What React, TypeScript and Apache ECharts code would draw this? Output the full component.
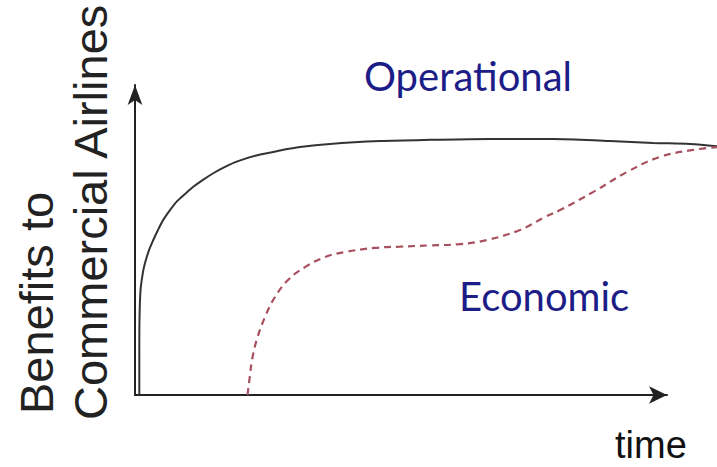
import React, { useEffect, useRef } from "react";
import * as echarts from "echarts";

// time (0-100 across the plot) and benefit (0-100 of axis height)
const operationalTime = [0.74, 0.74, 0.77, 0.95, 1.37, 1.72, 2.41, 3.14, 3.95, 4.86, 6.01, 7.16, 8.59, 10.02, 11.68, 13.45, 15.46, 17.47, 21.19, 24.91, 28.35, 33.5, 42.1, 50.7, 61.0, 71.8, 81.6, 89.0, 95.4, 100];
const operationalBenefit = [0, 14.3, 23.8, 33.3, 39.0, 41.9, 46.0, 49.2, 52.4, 55.6, 58.7, 61.4, 63.8, 66.1, 68.3, 70.4, 72.4, 74.1, 76.2, 77.6, 78.7, 79.7, 80.6, 81.0, 81.3, 81.3, 80.6, 80.0, 79.7, 79.0];

const economicTime = [19.33, 19.76, 20.1, 20.91, 22.34, 24.05, 26.29, 29.21, 32.65, 36.08, 41.24, 45.53, 50.69, 55.84, 60.48, 66.15, 70.45, 73.02, 78.69, 84.54, 90.21, 95.88, 100];
const economicBenefit = [0, 6.3, 11.1, 17.5, 24.8, 31.1, 36.5, 40.6, 43.8, 45.4, 46.7, 47.1, 47.5, 47.9, 49.2, 52.4, 56.5, 58.7, 64.4, 70.8, 75.6, 77.8, 78.7];

const yTitleLines = ["Benefits to", "Commercial Airlines"];
const xTitle = "time";
const labelOperational = "Operational";
const labelEconomic = "Economic";

export default function App() {
  const ref = useRef<HTMLDivElement>(null);
  useEffect(() => {
    if (!ref.current) return;
    const chart = echarts.init(ref.current, null, { renderer: "svg" });
    const opData = operationalTime.map((t, i) => [t, operationalBenefit[i]]);
    const ecData = economicTime.map((t, i) => [t, economicBenefit[i]]);
    const axisStyle = { color: "#222", width: 2 };
    chart.setOption({
      animation: false,
      backgroundColor: "#fff",
      grid: [
        { left: 135, right: 0, top: 80, bottom: 72 },
        { left: 135, right: 50, top: 85, bottom: 72 },
      ],
      xAxis: [
        { type: "value", gridIndex: 0, min: 0, max: 100, show: false },
        {
          type: "value", gridIndex: 1, min: 0, max: 1,
          axisLine: { show: true, onZero: false, lineStyle: axisStyle, symbol: ["none", "arrow"], symbolSize: [13, 18] },
          axisTick: { show: false }, axisLabel: { show: false }, splitLine: { show: false },
        },
      ],
      yAxis: [
        { type: "value", gridIndex: 0, min: 0, max: 100, show: false },
        {
          type: "value", gridIndex: 1, min: 0, max: 1,
          axisLine: { show: true, onZero: false, lineStyle: axisStyle, symbol: ["none", "arrow"], symbolSize: [11, 20] },
          axisTick: { show: false }, axisLabel: { show: false }, splitLine: { show: false },
        },
      ],
      series: [
        {
          type: "line", xAxisIndex: 0, yAxisIndex: 0, data: opData, smooth: 0.3,
          showSymbol: false, lineStyle: { color: "#333", width: 2 },
        },
        {
          type: "line", xAxisIndex: 0, yAxisIndex: 0, data: ecData, smooth: 0.4,
          showSymbol: false, lineStyle: { color: "#a8505e", width: 2.2, type: [7, 5] },
        },
      ],
      graphic: [
        {
          type: "text", x: 36, y: 414, rotation: Math.PI / 2,
          style: { text: yTitleLines[0], font: '47px "Liberation Sans", Arial, sans-serif', fill: "#222", textAlign: "left", textVerticalAlign: "middle" },
        },
        {
          type: "text", x: 90, y: 420, rotation: Math.PI / 2,
          style: { text: yTitleLines[1], font: '47px "Liberation Sans", Arial, sans-serif', fill: "#222", textAlign: "left", textVerticalAlign: "middle" },
        },
        {
          type: "text", x: 615, y: 445,
          style: { text: xTitle, font: '38px "Liberation Sans", Arial, sans-serif', fill: "#111", textAlign: "left", textVerticalAlign: "middle" },
        },
        {
          type: "text", x: 364, y: 76,
          style: { text: labelOperational, font: '40px Lato, sans-serif', fill: "#1d1d87", textAlign: "left", textVerticalAlign: "middle" },
        },
        {
          type: "text", x: 459, y: 296,
          style: { text: labelEconomic, font: '40px Lato, sans-serif', fill: "#1d1d87", textAlign: "left", textVerticalAlign: "middle" },
        },
      ],
    });
    return () => chart.dispose();
  }, []);
  return <div ref={ref} style={{ position: "fixed", left: 0, top: 0, width: 717, height: 467 }} />;
}
